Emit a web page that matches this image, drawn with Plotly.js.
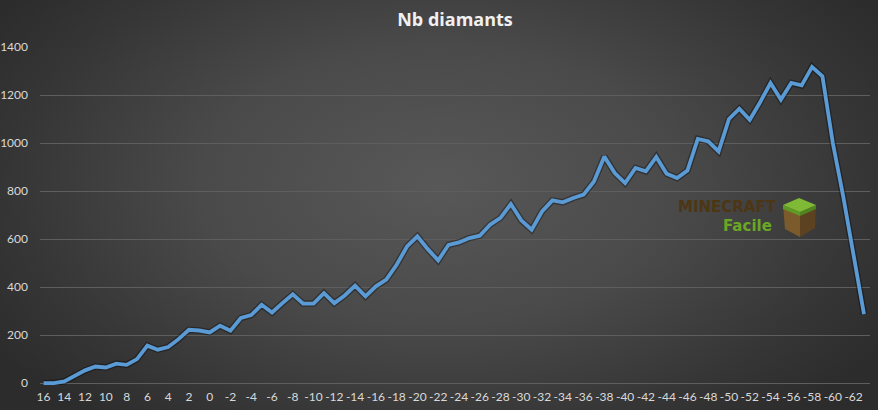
<!DOCTYPE html>
<html>
<head>
<meta charset="utf-8">
<script src="https://cdn.plot.ly/plotly-3.0.1.min.js"></script>
<style>
  html, body { margin: 0; padding: 0; }
  #chart {
    width: 878px; height: 410px;
    background: radial-gradient(ellipse 60% 75% at 50% 45%, #585858 0%, #4a4a4a 45%, #363636 80%, #2c2c2c 100%);
  }
</style>
</head>
<body>
<div id="chart"></div>
<script>
// Layer (Y level) — categories
const layers = [16, 15, 14, 13, 12, 11, 10, 9, 8, 7, 6, 5, 4, 3, 2, 1, 0, -1, -2, -3,
  -4, -5, -6, -7, -8, -9, -10, -11, -12, -13, -14, -15, -16, -17, -18, -19, -20, -21, -22, -23,
  -24, -25, -26, -27, -28, -29, -30, -31, -32, -33, -34, -35, -36, -37, -38, -39, -40, -41, -42, -43,
  -44, -45, -46, -47, -48, -49, -50, -51, -52, -53, -54, -55, -56, -57, -58, -59, -60, -61, -62, -63];

// Nb diamants per layer
const diamonds = [0, 0, 7, 32, 53, 69, 65, 81, 76, 100, 156, 139, 150, 183, 222, 219, 211, 239, 218, 271,
  283, 326, 294, 333, 370, 331, 331, 375, 333, 365, 406, 361, 403, 431, 493, 569, 611, 558, 511, 576,
  586, 604, 614, 660, 688, 746, 678, 639, 715, 761, 753, 771, 785, 840, 944, 875, 833, 896, 882, 942,
  872, 854, 885, 1017, 1007, 965, 1100, 1143, 1097, 1170, 1250, 1181, 1250, 1240, 1317, 1278, 1000, 778, 535, 287];

// X tick labels
const xTickVals = [16, 14, 12, 10, 8, 6, 4, 2, 0, -2, -4, -6, -8, -10, -12, -14, -16, -18, -20, -22,
  -24, -26, -28, -30, -32, -34, -36, -38, -40, -42, -44, -46, -48, -50, -52, -54, -56, -58, -60, -62];
const xTickText = ["16", "14", "12", "10", "8", "6", "4", "2", "0", "-2", "-4", "-6", "-8", "-10", "-12", "-14", "-16", "-18", "-20", "-22",
  "-24", "-26", "-28", "-30", "-32", "-34", "-36", "-38", "-40", "-42", "-44", "-46", "-48", "-50", "-52", "-54", "-56", "-58", "-60", "-62"];

// Y ticks
const yTickVals = [0, 200, 400, 600, 800, 1000, 1200, 1400];
const yTickText = ["0", "200", "400", "600", "800", "1000", "1200", "1400"];

const chartTitle = "Nb diamants";
const logoTop = "MINECRAFT";
const logoBottom = "Facile";

// plot area geometry (pixels)
const M = { l: 40, r: 8, t: 47, b: 25 };
const W = 878 - M.l - M.r, H = 410 - M.t - M.b;
const px = x => (x - M.l) / W;
const py = y => (M.t + H - y) / H;
const path = pts => 'M' + pts.map(p => px(p[0]).toFixed(4) + ',' + py(p[1]).toFixed(4)).join(' L') + ' Z';

const traces = [
  { x: layers, y: diamonds, type: 'scatter', mode: 'lines', hoverinfo: 'skip',
    line: { color: 'rgba(0,0,0,0.35)', width: 6.5, shape: 'linear' } },
  { x: layers, y: diamonds, type: 'scatter', mode: 'lines', hoverinfo: 'skip',
    line: { color: '#5b9bd5', width: 3.8, shape: 'linear' } }
];

const layout = {
  width: 878, height: 410,
  margin: M,
  paper_bgcolor: 'rgba(0,0,0,0)',
  plot_bgcolor: 'rgba(0,0,0,0)',
  showlegend: false,
  font: { family: 'Lato, "Open Sans", sans-serif', color: '#d9d9d9', size: 12 },
  title: { text: '<b>' + chartTitle + '</b>', x: 0.5, xref: 'paper', y: 0.953, yref: 'container', yanchor: 'middle',
           font: { family: '"Open Sans", sans-serif', size: 18, color: '#f0f0f0' } },
  xaxis: {
    range: [16.34, -63.58],
    tickmode: 'array', tickvals: xTickVals, ticktext: xTickText,
    showgrid: false, zeroline: false, showline: false, ticks: '',
    ticklabelstandoff: 3,
    tickfont: { size: 12, color: '#d9d9d9' }
  },
  yaxis: {
    range: [-8, 1400],
    tickmode: 'array', tickvals: yTickVals, ticktext: yTickText,
    showgrid: true, gridcolor: '#5e5e5e', gridwidth: 1,
    zeroline: true, zerolinecolor: '#5e5e5e', zerolinewidth: 1,
    showline: false, ticks: '', ticklabelstandoff: 11,
    tickfont: { size: 12, color: '#d9d9d9' }
  },
  annotations: [
    { text: '<b>' + logoTop + '</b>', xref: 'paper', yref: 'paper', x: px(778), y: py(207),
      xanchor: 'right', yanchor: 'middle', showarrow: false, borderpad: 0,
      font: { family: '"DejaVu Sans", sans-serif', size: 15, color: '#4d3614' } },
    { text: '<b>' + logoBottom + '</b>', xref: 'paper', yref: 'paper', x: px(773), y: py(225.5),
      xanchor: 'right', yanchor: 'middle', showarrow: false, borderpad: 0,
      font: { family: '"DejaVu Sans", sans-serif', size: 15, color: '#6aa823' } }
  ],
  shapes: [
    // left face
    { type: 'path', xref: 'paper', yref: 'paper', path: path([[783, 205], [800, 212], [800, 237], [785, 229]]),
      fillcolor: '#7b5a2c', line: { width: 0 } },
    // right face
    { type: 'path', xref: 'paper', yref: 'paper', path: path([[800, 212], [816, 205], [815, 228], [800, 237]]),
      fillcolor: '#5c4220', line: { width: 0 } },
    // grass rim left
    { type: 'path', xref: 'paper', yref: 'paper', path: path([[783, 205], [800, 212], [800, 216], [783, 209]]),
      fillcolor: '#5f9a25', line: { width: 0 } },
    // grass rim right
    { type: 'path', xref: 'paper', yref: 'paper', path: path([[800, 212], [816, 205], [816, 209], [800, 216]]),
      fillcolor: '#4f8420', line: { width: 0 } },
    // top face
    { type: 'path', xref: 'paper', yref: 'paper', path: path([[783, 205], [799, 198], [816, 205], [800, 212]]),
      fillcolor: '#7fba36', line: { width: 0 } }
  ]
};

Plotly.newPlot('chart', traces, layout, { displayModeBar: false, staticPlot: true });
</script>
</body>
</html>
